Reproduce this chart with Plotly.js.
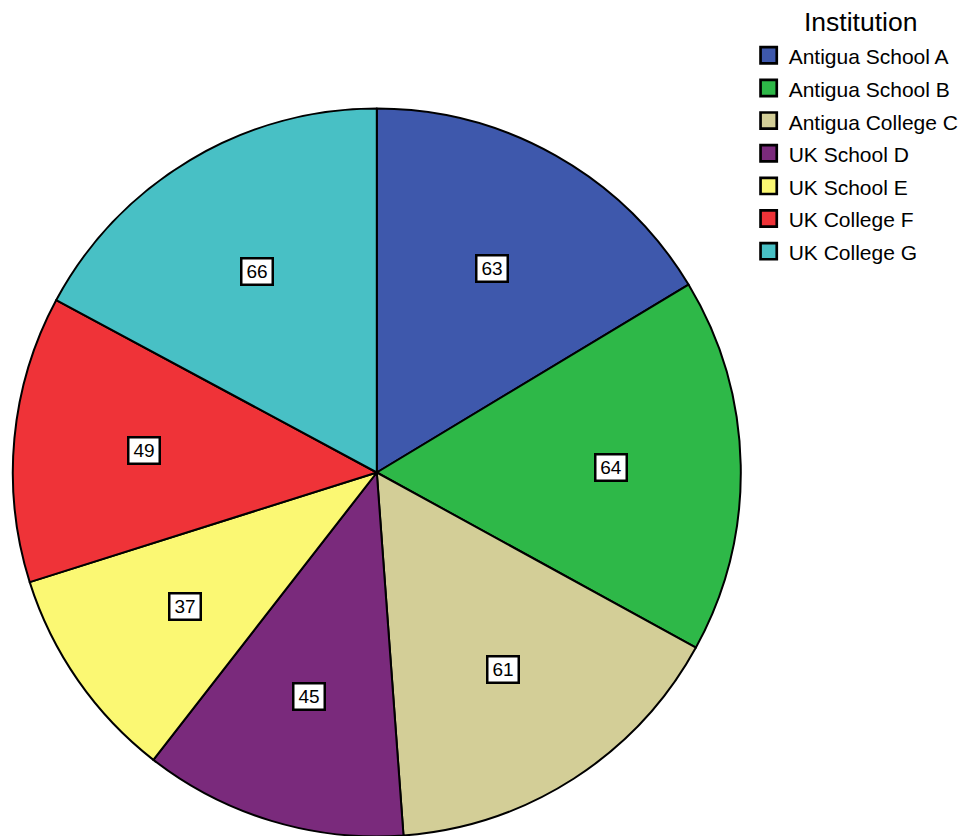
<!DOCTYPE html>
<html>
<head>
<meta charset="utf-8">
<script src="https://cdn.plot.ly/plotly-3.0.1.min.js"></script>
<style>
html,body{margin:0;padding:0;overflow:hidden;background:#fff;}
#chart{width:966px;height:840px;}
#chart path.legendpie{transform:translate(20px,0) scale(1.35);}
</style>
</head>
<body>
<div id="chart"></div>
<script>
const institutions = ["Antigua School A","Antigua School B","Antigua College C","UK School D","UK School E","UK College F","UK College G"];
const counts = [63, 64, 61, 45, 37, 49, 66];
const sliceColors = ["#3E58AC","#2EB848","#D3CE97","#7A2A7C","#FBF873","#EF3338","#48C0C5"];
const legendTitle = "Institution";

const W = 966, H = 840;
const cx = 376.8, cy = 472.5, R = 364;
const labelFrac = 0.643;

const total = counts.reduce((a,b)=>a+b,0);
const annotations = [];
let cum = 0;
counts.forEach((v,i)=>{
  const mid = (cum + v/2)/total*2*Math.PI;
  cum += v;
  const px = cx + labelFrac*R*Math.sin(mid);
  const py = cy - labelFrac*R*Math.cos(mid);
  annotations.push({
    x: px/W, y: 1 - py/H, xref:'paper', yref:'paper',
    text: String(v), showarrow:false,
    font:{family:'Liberation Sans, Arial, sans-serif', size:19, color:'#000'},
    bgcolor:'#fff', bordercolor:'#000', borderwidth:2.5, borderpad:1,
    width:27, height:22, align:'center', valign:'middle',
    xanchor:'center', yanchor:'middle'
  });
});
annotations.push({
  x: 860/W, y: 1 - 22/H, xref:'paper', yref:'paper',
  text: legendTitle, showarrow:false,
  font:{family:'Liberation Sans, Arial, sans-serif', size:26.5, color:'#000'},
  xanchor:'center', yanchor:'middle'
});

// legend entries rendered at 21px; legend font size sets row spacing
const legendLabels = institutions.map(s => '<span style="font-size:21px">' + s + '</span>');

const trace = {
  type:'pie',
  labels: legendLabels,
  values: counts,
  sort:false,
  direction:'clockwise',
  rotation:0,
  textinfo:'none',
  hoverinfo:'label+value',
  marker:{colors: sliceColors, line:{color:'#000', width:2}},
  domain:{x:[(cx-R)/W,(cx+R)/W], y:[(H-cy-R)/H,(H-cy+R)/H]}
};

const layout = {
  width:W, height:H,
  margin:{l:0,r:0,t:0,b:0},
  paper_bgcolor:'#fff',
  font:{family:'Liberation Sans, Arial, sans-serif', color:'#000'},
  showlegend:true,
  legend:{
    x:0.775, y:1 - 34/H, xanchor:'left', yanchor:'top',
    font:{size:22.8, color:'#000'},
    bgcolor:'rgba(0,0,0,0)',
    itemwidth:30,
    tracegroupgap:0
  },
  annotations: annotations
};

Plotly.newPlot('chart',[trace],layout,{displayModeBar:false,staticPlot:true});
</script>
</body>
</html>
